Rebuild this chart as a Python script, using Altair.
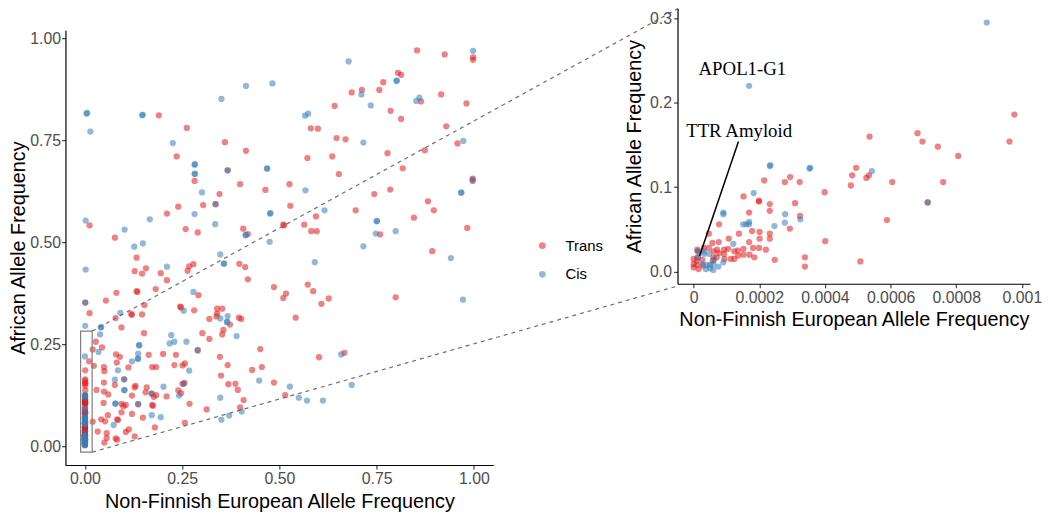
import altair as alt
import pandas as pd

# ---------------- main panel: Trans (red) ----------------
main_trans_x = [
    0.190, 0.262, 0.236, 0.282, 0.304, 0.240, 0.211, 0.012, 0.259, 0.290, 0.077, 0.336,
    0.686, 0.712, 0.642, 0.581, 0.599, 0.360, 0.414, 0.647, 0.670, 0.572, 0.636, 0.653, 0.399, 0.464,
    0.526, 0.346, 0.528, 0.696, 0.594, 0.510, 0.512, 0.564, 0.582, 0.596, 0.407, 0.419, 0.367,
    0.854, 0.925, 0.998, 0.998, 0.805, 0.813, 0.767, 0.757, 0.916, 0.864, 0.981, 0.786, 0.813, 0.929,
    0.958, 0.778, 0.874, 0.817, 0.997, 0.997, 0.744, 0.785, 0.882, 0.897, 0.846, 0.759, 0.983, 0.893, 0.799,
    0.133, 0.128, 0.147, 0.157, 0.195, 0.211, 0.268, 0.279, 0.264, 0.081, 0.133, 0.135, 0.182, 0.292, 0.054,
    0.012, 0.119, 0.121, 0.147, 0.153, 0.245, 0.247, 0.281, 0.079, 0.094, 0.320, 0.302, 0.320, 0.152, 0.028,
    0.044, 0.020, 0.080, 0.090, 0.082, 0.112, 0.164, 0.201, 0.290, 0.234, 0.183, 0.173, 0.230, 0.251, 0.257,
    0.023, 0.049, 0.050, 0.011, 0.049, 0.077, 0.130, 0.159, 0.251, 0.256, 0.030, 0.049, 0.060, 0.121, 0.128,
    0.156, 0.172, 0.177, 0.183, 0.210, 0.240, 0.247, 0.269, 0.048, 0.094, 0.099, 0.105, 0.173, 0.175, 0.094,
    0.121, 0.313, 0.020, 0.042, 0.052, 0.059, 0.083, 0.085, 0.149, 0.033, 0.056, 0.056, 0.079, 0.083, 0.105,
    0.113, 0.128, 0.180, 0.257, 0.050, 0.001, 0.101, 0.137,
    0.397, 0.412, 0.419, 0.486, 0.517, 0.510, 0.573, 0.587, 0.608, 0.627, 0.542, 0.340, 0.353, 0.340, 0.338,
    0.373, 0.396, 0.402, 0.356, 0.353, 0.451, 0.347, 0.367, 0.455, 0.430, 0.602, 0.667, 0.350, 0.369, 0.387,
    0.393, 0.486, 0.515, 0.408, 0.399,
]
main_trans_y = [
    0.811, 0.780, 0.710, 0.650, 0.591, 0.587, 0.570, 0.541, 0.532, 0.524, 0.511, 0.593,
    0.867, 0.873, 0.834, 0.779, 0.778, 0.745, 0.724, 0.755, 0.752, 0.706, 0.710, 0.667, 0.642, 0.628,
    0.642, 0.618, 0.589, 0.578, 0.563, 0.543, 0.541, 0.543, 0.527, 0.527, 0.533, 0.520, 0.676,
    0.970, 0.960, 0.953, 0.947, 0.915, 0.910, 0.892, 0.873, 0.862, 0.845, 0.840, 0.822, 0.802, 0.784,
    0.742, 0.718, 0.725, 0.681, 0.656, 0.650, 0.618, 0.629, 0.600, 0.578, 0.560, 0.519, 0.535, 0.478, 0.365,
    0.462, 0.429, 0.423, 0.436, 0.424, 0.407, 0.441, 0.446, 0.430, 0.376, 0.380, 0.378, 0.385, 0.370, 0.357,
    0.326, 0.324, 0.322, 0.323, 0.346, 0.342, 0.340, 0.333, 0.314, 0.291, 0.312, 0.277, 0.263, 0.277, 0.256,
    0.242, 0.237, 0.225, 0.219, 0.205, 0.193, 0.224, 0.226, 0.236, 0.224, 0.194, 0.194, 0.199, 0.198, 0.203,
    0.197, 0.194, 0.184, 0.208, 0.156, 0.150, 0.148, 0.144, 0.153, 0.155, 0.138, 0.134, 0.127, 0.124, 0.144,
    0.132, 0.129, 0.121, 0.125, 0.122, 0.137, 0.130, 0.104, 0.106, 0.104, 0.098, 0.101, 0.101, 0.099, 0.083,
    0.079, 0.090, 0.060, 0.066, 0.061, 0.076, 0.066, 0.064, 0.070, 0.036, 0.032, 0.020, 0.019, 0.016, 0.035,
    0.041, 0.024, 0.046, 0.057, 0.009, 0.352, 0.164, 0.103,
    0.447, 0.439, 0.409, 0.390, 0.374, 0.363, 0.396, 0.380, 0.349, 0.362, 0.315, 0.337, 0.337, 0.325, 0.318,
    0.298, 0.315, 0.312, 0.285, 0.274, 0.238, 0.219, 0.199, 0.194, 0.187, 0.218, 0.229, 0.173, 0.152, 0.153,
    0.138, 0.156, 0.125, 0.113, 0.095,
]

# ---------------- main panel: Cis (blue) ----------------
main_cis_x = [
    0.004, 0.006, 0.014, 0.147, 0.149, 0.226, 0.282, 0.283, 0.282, 0.283, 0.301, 0.282, 0.002, 0.167, 0.102,
    0.335, 0.127, 0.149, 0.336,
    0.678, 0.414, 0.482, 0.351, 0.711, 0.566, 0.574, 0.716, 0.367, 0.468, 0.469, 0.567, 0.476, 0.477, 0.616,
    0.413, 0.414, 0.475, 0.716, 0.998, 0.801, 0.802, 0.735, 0.852, 0.860, 0.973, 0.997, 0.967, 0.968,
    0.750, 0.751, 0.748, 0.799, 0.941, 0.972,
    0.002, 0.211, 0.279, 0.001, 0.091, 0.254, 0.041, 0.042, 0.039, 0.035, 0.139, 0.140, 0.137, 0.136, 0.137,
    0.121, 0.085, 0.222, 0.230, 0.218, 0.261, 0.290, 0.268, 0.077, 0.101, 0.202, 0.254, 0.101, 0.102, 0.171,
    0.242, 0.078, 0.079, 0.137, 0.172, 0.195, 0.074,
    0.348, 0.357, 0.358, 0.591, 0.348, 0.367, 0.365, 0.366, 0.390, 0.659, 0.448, 0.527, 0.550, 0.571, 0.612,
    0.686, 0.348, 0.403, 0.371, 0.351,
]
main_cis_y = [
    0.815, 0.817, 0.771, 0.811, 0.812, 0.743, 0.690, 0.691, 0.667, 0.668, 0.622, 0.569, 0.553, 0.556, 0.531,
    0.544, 0.489, 0.497, 0.593,
    0.943, 0.883, 0.889, 0.851, 0.862, 0.810, 0.815, 0.744, 0.676, 0.680, 0.681, 0.627, 0.570, 0.571, 0.578,
    0.517, 0.518, 0.501, 0.490, 0.969, 0.895, 0.896, 0.835, 0.846, 0.854, 0.748, 0.653, 0.621, 0.622,
    0.551, 0.552, 0.521, 0.527, 0.461, 0.359,
    0.433, 0.440, 0.378, 0.352, 0.327, 0.332, 0.291, 0.292, 0.274, 0.231, 0.247, 0.248, 0.227, 0.214, 0.215,
    0.208, 0.186, 0.272, 0.256, 0.252, 0.256, 0.234, 0.185, 0.163, 0.164, 0.146, 0.153, 0.137, 0.138, 0.129,
    0.124, 0.104, 0.105, 0.103, 0.076, 0.071, 0.052,
    0.470, 0.447, 0.448, 0.451, 0.313, 0.319, 0.304, 0.305, 0.270, 0.225, 0.161, 0.146, 0.119, 0.112, 0.112,
    0.150, 0.119, 0.085, 0.075, 0.065,
]

# ---------------- rare variants (shown in the zoomed panel) ----------------
rare_trans_x = [
    0.000495, 0.000483, 0.000479, 0.000294, 0.000278, 0.000323, 0.000215, 0.000152, 0.000199, 0.000199,
    0.000232, 0.000232, 0.000309, 0.000399, 0.000169, 0.000324, 0.000293, 0.0000775, 0.000178, 0.000201,
    0.000232, 0.000232, 0.000201, 0.000138, 0.000107, 0.000105, 0.0000463, 0.0000765, 0.000169, 0.000181,
    0.000199, 0.000220, 0.000152, 0.000152, 0.000135, 0.000124, 0.000136, 0.000170, 0.000185, 0.0000937,
    0.000113, 0.000124, 0.000247, 0.000339, 0.000339, 0.000401, 0.000508, 0.0000775, 0.0000574, 0.0000463,
    0.0000311, 0.0000112, 0.000013, 0.000013, 0.0, 0.0, 0.0, 0.00001, 0.00001, 0.000015,
    0.000027, 0.000028, 0.0000604, 0.0000704, 0.0000583, 0.0000928, 0.0000928, 0.0000716, 0.0000613,
    0.000977, 0.000962, 0.000536, 0.000682, 0.000697, 0.000744, 0.000806, 0.000534, 0.000526, 0.000605,
    0.000760, 0.000713, 0.000589,
]
rare_trans_y = [
    0.123, 0.114, 0.102, 0.112, 0.106, 0.106, 0.108, 0.089, 0.084, 0.083,
    0.080, 0.072, 0.081, 0.094, 0.070, 0.066, 0.051, 0.056, 0.048, 0.047,
    0.045, 0.039, 0.039, 0.045, 0.039, 0.027, 0.045, 0.035, 0.035, 0.028,
    0.028, 0.026, 0.027, 0.020, 0.025, 0.024, 0.019, 0.020, 0.017, 0.015,
    0.015, 0.015, 0.014, 0.017, 0.006, 0.036, 0.012, 0.022, 0.034, 0.028,
    0.028, 0.026, 0.024, 0.017, 0.015, 0.009, 0.005, 0.013, 0.008, 0.003,
    0.014, 0.007, 0.017, 0.017, 0.013, 0.026, 0.021, 0.026, 0.024,
    0.186, 0.154, 0.160, 0.164, 0.154, 0.148, 0.137, 0.114, 0.111, 0.106,
    0.106, 0.082, 0.061,
]
rare_cis_x = [
    0.000169, 0.000232, 0.000234, 0.000353, 0.000355, 0.000183, 0.0000906, 0.0000906, 0.000279, 0.000325,
    0.000278, 0.000246, 0.000151, 0.000160, 0.000169, 0.000169, 0.000121, 0.0000474, 0.000013, 0.000013,
    0.000030, 0.000032, 0.000027, 0.000040, 0.000050, 0.000060, 0.000050, 0.000060, 0.000037, 0.0000755,
    0.0000625, 0.0000906, 0.000893, 0.000543, 0.000713,
]
rare_cis_y = [
    0.220, 0.125, 0.126, 0.122, 0.123, 0.093, 0.070, 0.068, 0.068, 0.062,
    0.058, 0.054, 0.056, 0.056, 0.059, 0.056, 0.033, 0.021, 0.024, 0.017,
    0.024, 0.021, 0.009, 0.008, 0.008, 0.009, 0.004, 0.002, 0.003, 0.006,
    0.014, 0.011, 0.295, 0.119, 0.082,
]

categories = ["Trans", "Cis"]
palette = ["#E41A1C", "#377EB8"]

# annotations in the zoomed panel
label_text = ["APOL1-G1", "TTR Amyloid"]
label_x = [0.0001486, 0.0001387]
label_y = [0.2403, 0.166]
pointer_x, pointer_y, pointer_x2, pointer_y2 = [0.0001366], [0.1542], [0.0000181], [0.0184]

# zoom box on the main panel and the connectors towards the zoomed panel
box_x, box_x2, box_y, box_y2 = [-0.011], [0.0186], [-0.0146], [0.282]
conn_x = [0.0186, 0.0186]
conn_y = [0.282, -0.0146]
conn_x2 = [1.5255, 1.5255]
conn_y2 = [1.0728, 0.393]


def frame(xs, ys, kind):
    return pd.DataFrame({"nfe": xs, "afr": ys, "type": kind})


rare_t = frame(rare_trans_x, rare_trans_y, "Trans")
rare_c = frame(rare_cis_x, rare_cis_y, "Cis")
main_df = pd.concat([frame(main_trans_x, main_trans_y, "Trans"), rare_t,
                     frame(main_cis_x, main_cis_y, "Cis"), rare_c], ignore_index=True)
inset_df = pd.concat([rare_t, rare_c], ignore_index=True)

XT = "Non-Finnish European Allele Frequency"
YT = "African Allele Frequency"

# ---------- main panel ----------
mx = alt.Scale(domain=[-0.05, 1.05], nice=False, zero=False)
my = alt.Scale(domain=[-0.0461, 1.0194], nice=False, zero=False)
mx_axis = alt.Axis(values=[0, 0.25, 0.5, 0.75, 1.0], format=".2f", title=XT, titlePadding=5)
my_axis = alt.Axis(values=[0, 0.25, 0.5, 0.75, 1.0], format=".2f", title=YT, titlePadding=1, labelPadding=1)

color = alt.Color("type:N", scale=alt.Scale(domain=categories, range=palette),
                  legend=alt.Legend(orient="none", legendX=474, legendY=232, title=None,
                                    symbolType="circle", symbolSize=45, labelFontSize=15,
                                    labelFont="Liberation Sans", labelColor="black",
                                    labelOffset=16, rowPadding=13, padding=0,
                                    symbolStrokeWidth=0, symbolOpacity=0.55))

main_pts = alt.Chart(main_df).mark_circle(size=40, opacity=0.55).encode(
    x=alt.X("nfe:Q", scale=mx, axis=mx_axis),
    y=alt.Y("afr:Q", scale=my, axis=my_axis),
    color=color,
)
box = alt.Chart(pd.DataFrame({"nfe": box_x, "nfe2": box_x2, "afr": box_y, "afr2": box_y2})).mark_rect(
    fillOpacity=0, stroke="#7F7F7F", strokeWidth=1.2).encode(
    x=alt.X("nfe:Q", scale=mx, axis=mx_axis), x2="nfe2:Q",
    y=alt.Y("afr:Q", scale=my, axis=my_axis), y2="afr2:Q")
conn = alt.Chart(pd.DataFrame({"nfe": conn_x, "nfe2": conn_x2, "afr": conn_y, "afr2": conn_y2})).mark_rule(
    clip=False, color="#6E6E6E", strokeDash=[4, 4], strokeWidth=1.2).encode(
    x=alt.X("nfe:Q", scale=mx, axis=mx_axis), x2="nfe2:Q",
    y=alt.Y("afr:Q", scale=my, axis=my_axis), y2="afr2:Q")

main = alt.layer(main_pts, box, conn).properties(width=432, height=439)

spacer = alt.Chart(pd.DataFrame({"nfe": [0]})).mark_point(opacity=0).encode(
    x=alt.X("nfe:Q", axis=None)).properties(width=432, height=22)

# ---------- zoomed panel ----------
ix = alt.Scale(domain=[-0.000049, 0.001025], nice=False, zero=False)
iy = alt.Scale(domain=[-0.0144, 0.3117], nice=False, zero=False)
ix_axis = alt.Axis(values=[0, 0.0002, 0.0004, 0.0006, 0.0008, 0.001], format="~g", title=XT, titlePadding=4)
iy_axis = alt.Axis(values=[0, 0.1, 0.2, 0.3], format=".1f", title=YT, titlePadding=5)

inset_pts = alt.Chart(inset_df).mark_circle(size=40, opacity=0.55).encode(
    x=alt.X("nfe:Q", scale=ix, axis=ix_axis),
    y=alt.Y("afr:Q", scale=iy, axis=iy_axis),
    color=alt.Color("type:N", scale=alt.Scale(domain=categories, range=palette), legend=None),
)
labels = alt.Chart(pd.DataFrame({"nfe": label_x, "afr": label_y, "lab": label_text})).mark_text(
    font="Liberation Serif", fontSize=19, color="black").encode(
    x=alt.X("nfe:Q", scale=ix, axis=ix_axis), y=alt.Y("afr:Q", scale=iy, axis=iy_axis), text="lab:N")
pointer = alt.Chart(pd.DataFrame({"nfe": pointer_x, "nfe2": pointer_x2, "afr": pointer_y, "afr2": pointer_y2})).mark_rule(
    color="black", strokeWidth=1.5).encode(
    x=alt.X("nfe:Q", scale=ix, axis=ix_axis), x2="nfe2:Q",
    y=alt.Y("afr:Q", scale=iy, axis=iy_axis), y2="afr2:Q")

inset = alt.layer(inset_pts, pointer, labels).properties(width=356, height=278)

left = alt.vconcat(spacer, main, spacing=0, bounds="flush")
# the nested column counts with no width in a flush layout, so the spacing
# covers the main panel's width plus the gap to the zoomed panel
chart = alt.hconcat(left, inset, spacing=618, bounds="flush").properties(
    padding={"left": 0, "top": -3, "right": 0, "bottom": 0}
).configure_view(stroke=None).configure_axis(
    grid=False, labelFont="Liberation Sans", labelFontSize=16, labelColor="#4D4D4D",
    titleFont="Liberation Sans", titleFontSize=20, titleColor="black", titleFontWeight="normal",
    domainColor="black", domainWidth=1.2, tickColor="#333333", tickSize=4, tickWidth=1.1,
    labelPadding=2,
)

chart.save("out.html", embed_options={"renderer": "svg", "actions": False})
